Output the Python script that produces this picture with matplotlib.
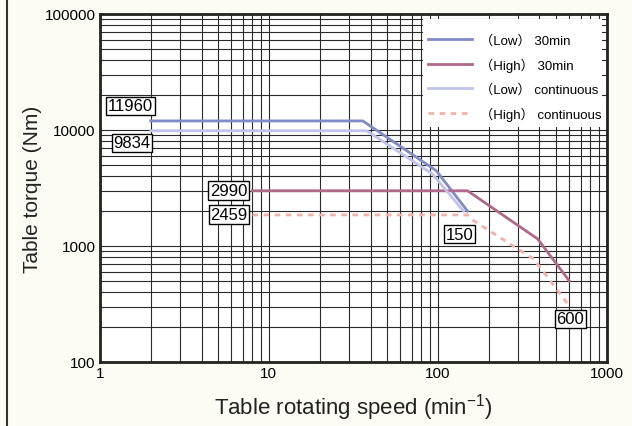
import matplotlib.pyplot as plt
from matplotlib.patches import Rectangle

plt.rcParams['font.family'] = ['Liberation Sans', 'Noto Sans CJK JP', 'DejaVu Sans']
plt.rcParams['mathtext.default'] = 'regular'

# curves (speed min^-1, torque Nm)
low30_x = [2, 36, 98, 150]
low30_y = [11960, 11960, 4450, 2000]
high30_x = [8, 150, 390, 600]
high30_y = [2990, 2990, 1150, 500]
lowcont_x = [2, 38, 93, 142]
lowcont_y = [9834, 9834, 4170, 2000]
highcont_x = [8, 150, 160, 370, 600]
highcont_y = [1850, 1850, 1680, 770, 305]

# boxed value labels: text, x, y
box_text = ['11960', '9834', '2990', '2459', '150', '600']
box_x = [1.52, 1.55, 5.8, 5.8, 134, 608]
box_y = [16100, 7730, 3010, 1870, 1267, 235]

bg = '#fcfcf5'
fig = plt.figure(figsize=(6.32, 4.27), dpi=100, facecolor=bg)
ax = fig.add_axes([0.158, 0.150, 0.802, 0.815])
ax.set_facecolor('white')
ax.set_xscale('log')
ax.set_yscale('log')
ax.set_xlim(1, 1000)
ax.set_ylim(100, 100000)

ax.grid(True, which='both', color='#2a2a2a', lw=0.8)
ax.set_axisbelow(True)
ax.tick_params(which='both', length=0)
for s in ax.spines.values():
    s.set_linewidth(2)
    s.set_color('#222222')

# white patch behind the legend
ax.add_patch(Rectangle((0.637, 0.675), 0.353, 0.311, transform=ax.transAxes,
                       facecolor='white', edgecolor='none', zorder=1.5))

ax.plot(low30_x, low30_y, color='#7f8cc8', lw=2, label='（Low） 30min', zorder=3)
ax.plot(high30_x, high30_y, color='#b0698a', lw=2, label='（High） 30min', zorder=3)
ax.plot(lowcont_x, lowcont_y, color='#c0c4ec', lw=2, label='（Low） continuous', zorder=3)
ax.plot(highcont_x, highcont_y, color='#f5b0a8', lw=2, ls=(0, (2, 2)),
        label='（High） continuous', zorder=3)

for t, x, y in zip(box_text, box_x, box_y):
    ax.text(x, y, t, fontsize=12, ha='center', va='center', zorder=4,
            bbox=dict(boxstyle='square,pad=0.1', fc='white', ec='black', lw=1))

ax.legend(loc='upper left', bbox_to_anchor=(0.648, 0.943), frameon=False,
          borderpad=0, borderaxespad=0, handlelength=3.3,
          handletextpad=0.6, labelspacing=0.85, prop={'size': 9.5})

ax.set_xticks([1, 10, 100, 1000])
ax.set_xticklabels(['1', '10', '100', '1000'])
ax.set_yticks([100, 1000, 10000, 100000])
ax.set_yticklabels(['100', '1000', '10000', '100000'])
ax.tick_params(axis='both', labelsize=11, pad=3)
ax.set_xlabel('Table rotating speed (min$^{-1}$)', fontsize=16, color='#222222', labelpad=8)
ax.set_ylabel('Table torque (Nm)', fontsize=15, color='#222222', labelpad=2)

# thin border line at the left edge of the scan
fig.add_artist(plt.Line2D([0.011, 0.011], [0, 1], color='#333333', lw=1.5))

fig.savefig('out.png', dpi=100, facecolor=bg)
